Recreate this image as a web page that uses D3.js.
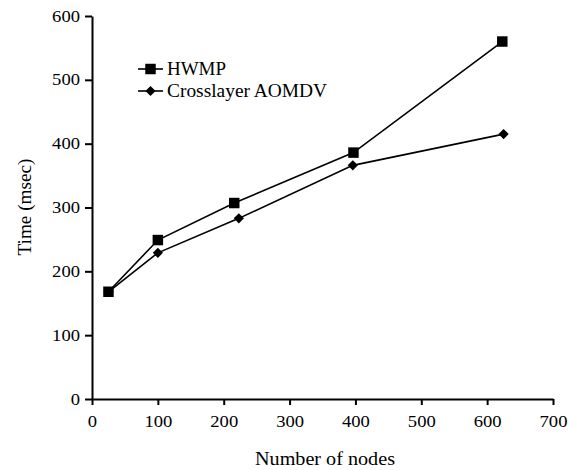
<!DOCTYPE html>
<html>
<head>
<meta charset="utf-8">
<script src="https://cdn.jsdelivr.net/npm/d3@7"></script>
<style>
  body { margin: 0; background: #fff; }
  svg text { font-family: "Liberation Serif", "DejaVu Serif", serif; fill: #000; }
</style>
</head>
<body>
<svg id="chart" width="568" height="470"></svg>
<script>
// data
const hwmpNodes = [25, 100, 216, 397, 623];
const hwmpTime = [168, 249, 307, 386, 560];
const crossNodes = [25, 100, 223, 396, 625];
const crossTime = [168, 229, 283, 366, 415];
const xTicks = [0, 100, 200, 300, 400, 500, 600, 700];
const yTicks = [0, 100, 200, 300, 400, 500, 600];

const width = 568, height = 470;
const margin = {top: 16, right: 15, bottom: 71, left: 92};
const w = 553 - margin.left;
const h = 399 - margin.top;
const serif = 'Liberation Serif, DejaVu Serif, serif';
const digitW = 9.3; // the source font is a bit stretched sideways

const svg = d3.select('#chart');
const g = svg.append('g').attr('transform', `translate(${margin.left},${margin.top})`);

const xScale = d3.scaleLinear().domain([0, 700]).range([0, w]);
const yScale = d3.scaleLinear().domain([0, 600]).range([h, 0]);

const xAxis = d3.axisBottom(xScale).tickValues(xTicks).tickSize(6).tickSizeOuter(0).tickPadding(11);
const yAxis = d3.axisLeft(yScale).tickValues(yTicks).tickSize(7).tickSizeOuter(0).tickPadding(5);

g.append('g').attr('class', 'x-axis')
  .attr('transform', `translate(0,${h})`)
  .call(xAxis)
  .attr('font-family', serif)
  .attr('font-size', 16);
g.append('g').attr('class', 'y-axis')
  .call(yAxis)
  .attr('font-family', serif)
  .attr('font-size', 16);

g.selectAll('.domain').attr('stroke', '#000').attr('stroke-width', 2);
g.selectAll('.tick line').attr('stroke', '#000').attr('stroke-width', 2);
g.selectAll('.tick text')
  .attr('fill', '#000')
  .attr('textLength', d => String(d).length * digitW)
  .attr('lengthAdjust', 'spacingAndGlyphs');

// diamond = square turned 45 degrees
const series = [
  {name: 'HWMP', xs: hwmpNodes, ys: hwmpTime, size: 110, rot: 0, len: 59},
  {name: 'Crosslayer AOMDV', xs: crossNodes, ys: crossTime, size: 52, rot: 45, len: 160}
];

const line = d3.line().x(d => xScale(d[0])).y(d => yScale(d[1]));

// draw crosslayer first so HWMP squares sit on top
series.slice().reverse().forEach(s => {
  const pts = s.xs.map((x, i) => [x, s.ys[i]]);
  g.append('path')
    .datum(pts)
    .attr('fill', 'none')
    .attr('stroke', '#000')
    .attr('stroke-width', 1.6)
    .attr('d', line);
  g.selectAll(null)
    .data(pts)
    .enter()
    .append('path')
    .attr('transform', d => `translate(${xScale(d[0])},${yScale(d[1])}) rotate(${s.rot})`)
    .attr('d', d3.symbol().type(d3.symbolSquare).size(s.size))
    .attr('fill', '#000');
});

// legend
const legend = svg.append('g').attr('transform', 'translate(138,69)');
series.forEach((s, i) => {
  const row = legend.append('g').attr('transform', `translate(0,${i * 22})`);
  row.append('line')
    .attr('x1', 0).attr('x2', 25)
    .attr('stroke', '#000').attr('stroke-width', 1.6);
  row.append('path')
    .attr('transform', `translate(12.5,0) rotate(${s.rot})`)
    .attr('d', d3.symbol().type(d3.symbolSquare).size(s.size))
    .attr('fill', '#000');
  row.append('text')
    .attr('x', 29)
    .attr('y', 6)
    .attr('textLength', s.len)
    .attr('lengthAdjust', 'spacingAndGlyphs')
    .style('font-size', '18px')
    .text(s.name);
});

// axis titles
svg.append('text')
  .attr('x', 325)
  .attr('y', 465)
  .attr('text-anchor', 'middle')
  .attr('textLength', 140)
  .attr('lengthAdjust', 'spacingAndGlyphs')
  .style('font-size', '18px')
  .text('Number of nodes');

svg.append('text')
  .attr('transform', 'translate(31,207) rotate(-90)')
  .attr('text-anchor', 'middle')
  .attr('textLength', 97)
  .attr('lengthAdjust', 'spacingAndGlyphs')
  .style('font-size', '18px')
  .text('Time (msec)');
</script>
</body>
</html>
